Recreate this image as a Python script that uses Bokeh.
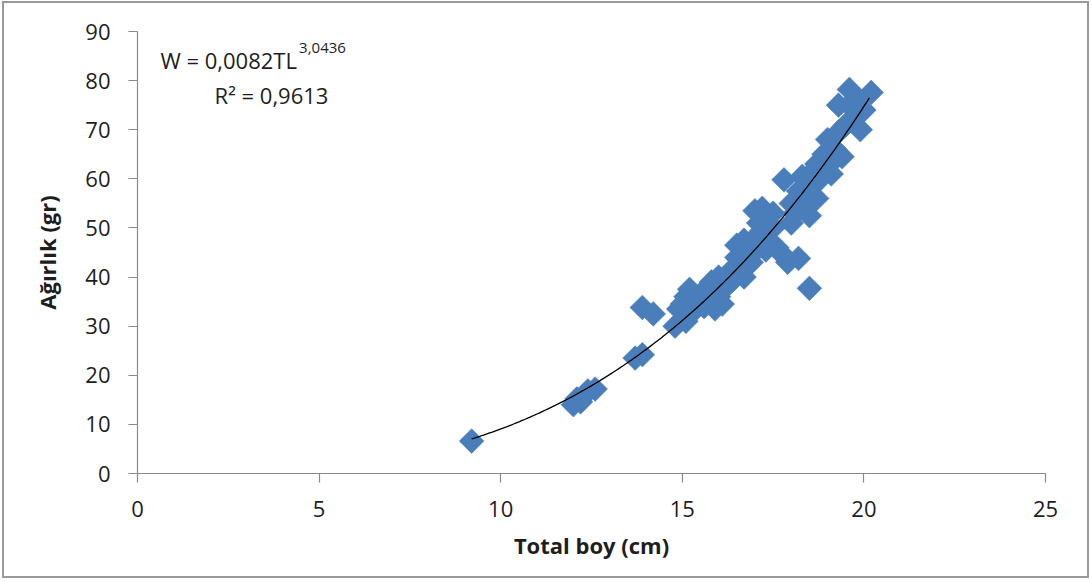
import numpy as np
from bokeh.plotting import figure
from bokeh.models import Range1d, FixedTicker, Label, ColumnDataSource
from bokeh.embed import file_html
from bokeh.resources import INLINE

# ---- data ----
total_boy = [9.2, 12.0, 12.1, 12.2, 12.3, 12.4, 12.6, 13.7, 13.9, 13.9, 14.2,
             14.8, 14.9, 15.0, 15.1, 15.1, 15.2, 15.3, 15.4, 15.5, 15.6, 15.7,
             15.8, 15.8, 15.9, 16.0, 16.0, 16.1, 16.2, 16.3, 16.4, 16.5, 16.5,
             16.6, 16.7, 16.7, 16.8, 16.9, 17.0, 17.0, 17.1, 17.1, 17.2, 17.2,
             17.3, 17.3, 17.4, 17.5, 17.5, 17.6, 17.7, 17.8, 17.9, 18.0, 18.0,
             18.1, 18.2, 18.2, 18.3, 18.4, 18.5, 18.5, 18.5, 18.6, 18.7, 18.7,
             18.8, 18.9, 19.0, 19.0, 19.1, 19.2, 19.3, 19.3, 19.4, 19.5, 19.6,
             19.6, 19.7, 19.8, 19.9, 20.0, 20.2]
agirlik = [6.6, 14.0, 15.2, 14.6, 16.0, 16.8, 17.2, 23.5, 24.2, 33.8, 32.5,
           30.0, 33.5, 34.5, 31.0, 36.0, 37.5, 33.0, 35.0, 36.5, 34.0, 37.0,
           35.5, 39.0, 33.5, 36.0, 40.0, 34.5, 38.0, 41.0, 39.5, 44.0, 46.5,
           42.0, 40.0, 47.5, 45.0, 43.0, 48.0, 53.5, 46.0, 51.0, 49.5, 54.0,
           45.5, 52.5, 47.0, 50.0, 53.0, 46.0, 45.0, 59.8, 43.0, 51.0, 55.0,
           53.0, 43.8, 57.5, 60.5, 54.0, 37.7, 52.5, 58.0, 61.5, 56.0, 63.0,
           60.0, 65.0, 62.5, 68.0, 61.0, 66.0, 69.5, 75.0, 64.5, 71.0, 78.2,
           75.0, 72.0, 76.5, 70.0, 74.0, 77.6]

# power trendline shown on the chart: W = a * TL^b
coef_a = 0.0082
coef_b = 3.0436
trend_start, trend_end = 9.2, 20.15

x_ticks = [0, 5, 10, 15, 20, 25]
y_ticks = [0, 10, 20, 30, 40, 50, 60, 70, 80, 90]

FONT = "Open Sans"
TXT = "#1e1e1e"
AX = "#8a8a8a"
BLUE = "#4A7EBB"

p = figure(width=1083, height=573, output_backend="svg", toolbar_location=None,
           x_range=Range1d(0, 25), y_range=Range1d(0, 90),
           min_border_left=133, min_border_right=42, min_border_top=28,
           min_border_bottom=103)
p.styles = {"margin-left": "4px", "margin-top": "3px",
            "outline": "2px solid #9a9a9a", "outline-offset": "0px"}
p.outline_line_color = None
p.grid.visible = False
p.background_fill_color = "white"
p.border_fill_color = "white"

for ax in (p.xaxis[0], p.yaxis[0]):
    ax.axis_line_color = AX
    ax.axis_line_width = 1.2
    ax.major_tick_line_color = AX
    ax.major_tick_line_width = 1.2
    ax.major_tick_in = 0
    ax.major_tick_out = 9
    ax.minor_tick_line_color = None
    ax.major_label_text_font = FONT
    ax.major_label_text_font_size = "22px"
    ax.major_label_text_color = TXT
    ax.axis_label_text_font = FONT
    ax.axis_label_text_font_size = "22px"
    ax.axis_label_text_font_style = "bold"
    ax.axis_label_text_color = TXT

p.xaxis[0].ticker = FixedTicker(ticks=x_ticks)
p.yaxis[0].ticker = FixedTicker(ticks=y_ticks)
p.xaxis[0].axis_label = "Total boy (cm)"
p.yaxis[0].axis_label = "Ağırlık (gr)"
p.xaxis[0].major_label_standoff = 18
p.yaxis[0].major_label_standoff = 18
p.xaxis[0].axis_label_standoff = 10
p.yaxis[0].axis_label_standoff = 20

src = ColumnDataSource(dict(x=total_boy, y=agirlik))
p.scatter("x", "y", source=src, marker="square", size=17.5, angle=np.pi / 4,
          fill_color=BLUE, line_color=BLUE, line_width=0.5)

tx = np.linspace(trend_start, trend_end, 200)
ty = coef_a * tx ** coef_b
p.line(tx, ty, line_color="black", line_width=1.3)

p.add_layout(Label(x=0.63, y=84.1, text="W = 0,0082TL", text_font=FONT,
                   text_font_size="22px", text_color=TXT,
                   text_baseline="alphabetic"))
p.add_layout(Label(x=4.45, y=86.6, text="3,0436", text_font=FONT,
                   text_font_size="15px", text_color=TXT,
                   text_baseline="alphabetic"))
p.add_layout(Label(x=3.69, y=77.0, text="R² = 0,9613", text_font=FONT,
                   text_font_size="22px", text_color=TXT, text_align="center",
                   text_baseline="alphabetic"))

open("out.html", "w").write(file_html(p, INLINE))
